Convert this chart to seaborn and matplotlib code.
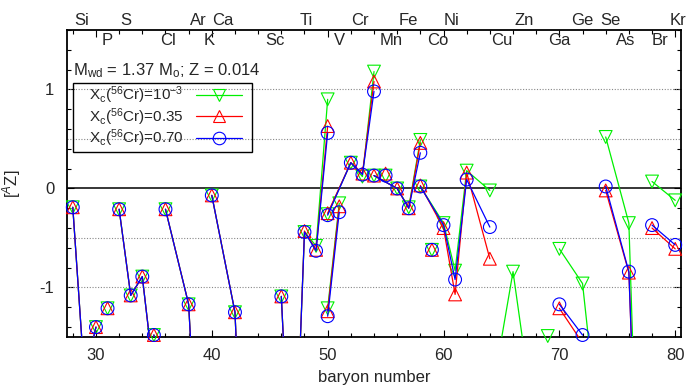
import numpy as np
import pandas as pd
import matplotlib
matplotlib.use("Agg")
import matplotlib.pyplot as plt
import matplotlib.transforms as mtransforms
from matplotlib.lines import Line2D
from matplotlib.patches import Rectangle
from matplotlib.ticker import MultipleLocator
import seaborn as sns

# ---------------- data ----------------
element = ["Si", "Si", "Si", "P", "S", "S", "S", "S", "Cl", "Cl",
           "Ar", "Ar", "Ar", "Ca", "Ca", "Ca",
           "Ti", "Ti", "Ti", "Ti", "Ti", "V", "V", "Cr", "Cr", "Cr", "Cr",
           "Mn", "Fe", "Fe", "Fe", "Fe", "Co",
           "Ni", "Ni", "Ni", "Ni", "Ni", "Zn", "Zn", "Zn", "Zn", "Ga",
           "Ge", "Ge", "Ge", "Se", "Se", "Se", "Kr", "Kr"]
mass = [28, 29, 30, 31, 32, 33, 34, 36, 35, 37,
        36, 38, 40, 40, 42, 43,
        46, 47, 48, 49, 50, 50, 51, 50, 52, 53, 54,
        55, 54, 56, 57, 58, 59,
        58, 60, 61, 62, 64, 64, 66, 67, 68, 69,
        70, 72, 73, 74, 76, 77, 78, 80]
nan = np.nan
z_low = [-0.19, -1.9, -1.40, -1.21, -0.21, -1.08, -0.89, -2.9, -1.48, -3.0,
         -0.21, -1.17, -5.5, -0.07, -1.25, -4.0,
         -1.09, -3.5, -0.44, -0.58, 0.90, -1.21, -0.15, -0.26, 0.26, 0.12, 1.18,
         0.13, 0.13, 0.0, -0.19, 0.49, -0.62,
         0.02, -0.35, -0.83, 0.18, -0.02, -2.2, -0.84, -1.67, -3.0, -1.49,
         -0.61, -0.96, -2.04, 0.52, -0.35, -4.0, 0.07, -0.12]
z_mid = [-0.19, -1.9, -1.40, -1.21, -0.21, -1.08, -0.89, -2.9, -1.48, -3.0,
         -0.21, -1.17, -5.5, -0.07, -1.25, -4.0,
         -1.09, -3.5, -0.43, -0.62, 0.63, -1.24, -0.18, -0.25, 0.26, 0.15, 1.08,
         0.15, 0.13, 0.0, -0.20, 0.46, -0.62,
         0.03, -0.40, -1.07, 0.16, -0.71, nan, nan, nan, nan, nan,
         -1.21, -1.56, nan, -0.02, -0.85, -4.0, -0.40, -0.61]
z_high = [-0.19, -1.9, -1.40, -1.21, -0.21, -1.08, -0.89, -2.9, -1.48, -3.0,
          -0.21, -1.17, -5.5, -0.07, -1.25, -4.0,
          -1.09, -3.5, -0.44, -0.63, 0.56, -1.29, -0.24, -0.27, 0.26, 0.14, 0.98,
          0.13, 0.13, 0.0, -0.20, 0.36, -0.62,
          0.02, -0.37, -0.92, 0.09, -0.39, nan, nan, nan, nan, nan,
          -1.17, -1.48, nan, 0.02, -0.84, -4.0, -0.37, -0.57]

series_labels = [r"X$_\mathrm{c}$($^{56}$Cr)=10$^{-3}$",
                 r"X$_\mathrm{c}$($^{56}$Cr)=0.35",
                 r"X$_\mathrm{c}$($^{56}$Cr)=0.70"]

top_row_names = ["Si", "S", "Ar", "Ca", "Ti", "Cr", "Fe", "Ni", "Zn", "Ge", "Se", "Kr"]
top_row_x = [28.1, 32.1, 38.1, 40.0, 47.6, 52.05, 56.1, 60.0, 66.1, 71.05, 73.5, 79.5]
low_row_names = ["P", "Cl", "K", "Sc", "V", "Mn", "Co", "Cu", "Ga", "As", "Br"]
low_row_x = [30.53, 35.56, 39.3, 44.6, 50.5, 54.5, 58.55, 64.07, 69.0, 74.85, 78.0]

title_text = r"M$_\mathrm{wd}$ = 1.37 M$_\mathrm{o}$; Z = 0.014"

# ---------------- style ----------------
sns.set_style("ticks")
plt.rcParams["font.family"] = ["Liberation Sans", "DejaVu Sans"]
plt.rcParams["mathtext.fontset"] = "custom"
plt.rcParams["mathtext.rm"] = "Liberation Sans"
plt.rcParams["mathtext.it"] = "Liberation Sans:italic"
plt.rcParams["mathtext.bf"] = "Liberation Sans:bold"
plt.rcParams["axes.unicode_minus"] = False
FS = 12
LFS = 11

colors = ["#00f000", "#ff0000", "#0000ff"]
markers = ["v", "^", "o"]
YMIN, YMAX = -1.5, 1.6
XMIN, XMAX = 27.5, 80.5

df = pd.DataFrame({"element": element, "mass": mass,
                   "low": z_low, "mid": z_mid, "high": z_high})

fig = plt.figure(figsize=(6.88, 3.87), dpi=100)
ax = fig.add_axes([67 / 688, 1 - 337 / 387, 614 / 688, 307 / 387])

# reference lines
for yv in [-1.0, -0.5, 0.5, 1.0]:
    ax.axhline(yv, color="#888888", lw=0.8, ls=(0, (1, 1.5)), zorder=1)
ax.axhline(0.0, color="black", lw=1.1, zorder=1)

handles = []
for i, col in enumerate(["low", "mid", "high"]):
    c = colors[i]
    sub = df[["element", "mass", col]].dropna()
    sns.lineplot(data=sub, x="mass", y=col, units="element", estimator=None,
                 sort=False, color=c, lw=0.9, ax=ax, legend=False,
                 zorder=3 + 2 * i)
    inr = sub[(sub[col] >= YMIN) & (sub[col] <= YMAX)]
    sns.scatterplot(data=inr, x="mass", y=col, marker=markers[i], s=85,
                    color=c, linewidth=0.8, ax=ax, legend=False,
                    clip_on=False, zorder=4 + 2 * i)
    coll = ax.collections[-1]
    coll.set_facecolor("none")
    coll.set_edgecolor(c)
    handles.append(Line2D([], [], color=c, lw=0.9, marker=markers[i], ms=9,
                          mfc="none", mec=c, mew=0.8))

ax.set_xlim(XMIN, XMAX)
ax.set_ylim(YMIN, YMAX)
ax.xaxis.set_major_locator(MultipleLocator(10))
ax.xaxis.set_minor_locator(MultipleLocator(2))
ax.yaxis.set_major_locator(MultipleLocator(1))
ax.yaxis.set_minor_locator(MultipleLocator(0.2))
ax.tick_params(which="both", direction="in", top=True, right=True,
               labelsize=FS, width=0.8, color="black")
ax.tick_params(which="major", length=5, pad=8)
ax.tick_params(which="minor", length=3)
ax.tick_params(axis="y", which="major", pad=9)
for sp in ax.spines.values():
    sp.set_linewidth(1.3)
    sp.set_color("black")

ax.set_xlabel("baryon number", fontsize=FS, labelpad=5)
ax.set_ylabel(r"[$^{A}$Z]", fontsize=FS, labelpad=12)

# element labels
trans = mtransforms.blended_transform_factory(ax.transData, ax.transAxes)
for name, xv in zip(top_row_names, top_row_x):
    ax.text(xv, 1.031, name, transform=trans, ha="left", va="center",
            fontsize=FS, clip_on=False)
for name, xv in zip(low_row_names, low_row_x):
    ax.text(xv, 0.965, name, transform=trans, ha="left", va="center",
            fontsize=FS, clip_on=False)

ax.text(0.0098, 0.866, title_text, transform=ax.transAxes, ha="left",
        va="center", fontsize=FS)

# legend (gnuplot-style key: text then sample), framed by a plain box
box_left, box_top = 0.0103, 0.826
leg = ax.legend(handles, series_labels, loc="upper left",
                bbox_to_anchor=(0.036, 0.822), borderaxespad=0,
                markerfirst=False, fontsize=LFS, handlelength=3.0,
                labelspacing=0.0, borderpad=0.0, handletextpad=0.8,
                frameon=False)
fig.canvas.draw()
bb = leg.get_window_extent().transformed(ax.transAxes.inverted())
box_right = bb.x1 + 0.016
box_bottom = bb.y0 - 0.008
ax.add_patch(Rectangle((box_left, box_bottom), box_right - box_left,
                       box_top - box_bottom, transform=ax.transAxes,
                       fill=False, edgecolor="black", lw=1.0, zorder=2))

fig.savefig("out.png", dpi=100)
